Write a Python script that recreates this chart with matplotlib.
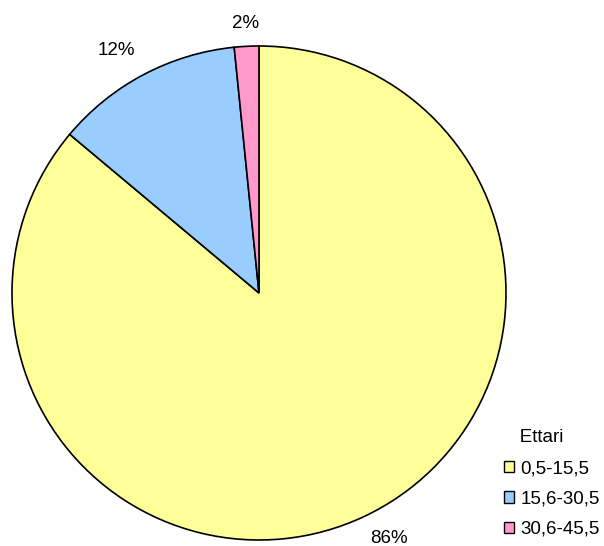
import numpy as np
import matplotlib.pyplot as plt
from matplotlib.patches import Patch

plt.rcParams['font.family'] = ['Liberation Sans', 'DejaVu Sans']

# dati
classi = ['0,5-15,5', '15,6-30,5', '30,6-45,5']
quote = [86.1, 12.3, 1.6]
colori = ['#FFFF99', '#99CCFF', '#FF99CC']
etichette = ['86%', '12%', '2%']

fig = plt.figure(figsize=(6.04, 5.46), dpi=100)
ax = fig.add_axes([12 / 604, 6 / 546, 494 / 604, 494 / 546])

wedges, texts = ax.pie(quote, colors=colori, labels=etichette, startangle=90,
                       counterclock=False, labeldistance=1.1,
                       wedgeprops=dict(edgecolor='black', linewidth=1.2),
                       textprops=dict(fontsize=13.5))
# etichette fuori dal bordo, stile Excel
dist = [1.06, 1.07, 1.06]
for w, t, d in zip(wedges, texts, dist):
    ang = np.deg2rad((w.theta1 + w.theta2) / 2)
    c, s = np.cos(ang), np.sin(ang)
    t.set_position((d * c, d * s))
    if abs(c) < 0.15:
        t.set_ha('center')
    else:
        t.set_ha('left' if c > 0 else 'right')
    t.set_va('bottom' if s > 0 else 'top')
ax.set_xlim(-1, 1)
ax.set_ylim(-1, 1)
ax.set_aspect('equal')

handles = [Patch(facecolor=c, edgecolor='black', linewidth=1) for c in colori]
fig.legend(handles, classi, title='   Ettari', loc='lower right',
           bbox_to_anchor=(600 / 604, 8 / 546), frameon=False, fontsize=13.5,
           title_fontsize=13.5, handlelength=0.55, handleheight=0.55,
           handletextpad=0.35, labelspacing=0.72, alignment='left',
           borderpad=0, borderaxespad=0)

fig.savefig('out.png', dpi=100)
